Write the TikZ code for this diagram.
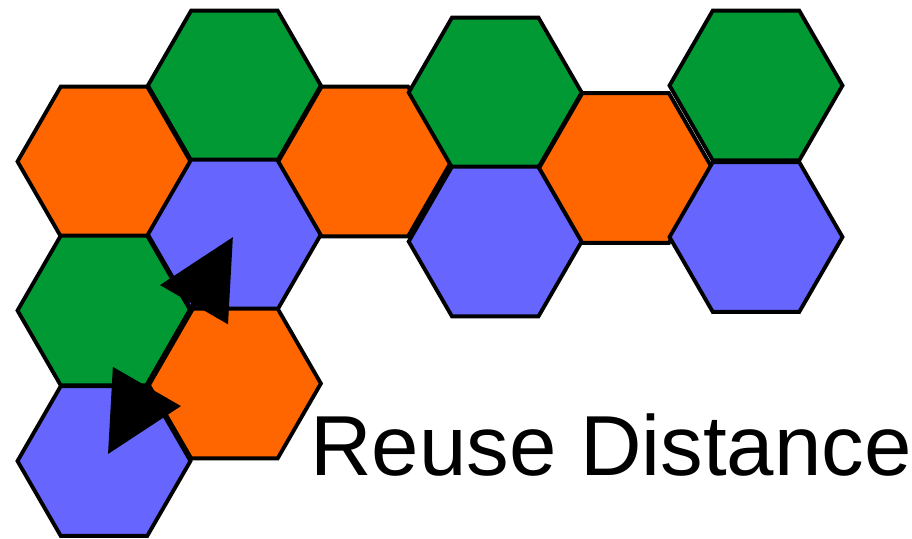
\documentclass[tikz,border=0pt]{standalone}
\usepackage{fontspec}
\setsansfont{Liberation Sans}
\usepackage{tikz}
\usetikzlibrary{shapes.geometric, arrows.meta}
\definecolor{cGreen}{RGB}{0,153,51}
\definecolor{cOrange}{RGB}{255,102,0}
\definecolor{cBlue}{RGB}{102,102,255}
\tikzset{
	hexcell/.style ={regular polygon, regular polygon sides=6, minimum size=3.46cm, inner sep=0pt, outer sep=0pt, draw=black, line width=2.2pt},
	reusearrow/.style={{Triangle[length=1.56cm, width=1.54cm]}-{Triangle[length=1.56cm, width=1.54cm]}, line width=3.4pt},
}

\begin{document}
\begin{tikzpicture}[x=0.02cm, y=-0.02cm]
	\useasboundingbox (0,0) rectangle (912,538);
	% honeycomb of cells, one per column/row
	\foreach \x/\y/\c/\n in {104/161.5/cOrange/oA, 104/310.5/cGreen/gA, 104/461/cBlue/bA,
			234.4/85.5/cGreen/gB, 234.4/234.5/cBlue/bB, 234.4/383.5/cOrange/oB,
			364.8/161.5/cOrange/oC,
			495.2/92.5/cGreen/gD, 495.2/241.5/cBlue/bD,
			625.6/168/cOrange/oE,
			756/85.5/cGreen/gF, 756/237/cBlue/bF} {
		\node[hexcell, fill=\c] (\n) at (\x,\y) {};
	}
	\draw[reusearrow, shorten <=0.16cm, shorten >=0.06cm] (bA.center) -- (bB.center);
	\node[font=\sffamily\fontsize{48.5}{48.5}\selectfont, anchor=base west, inner sep=0pt] (dist) at (310,475) {Reuse Distance};
\end{tikzpicture}
\end{document}
